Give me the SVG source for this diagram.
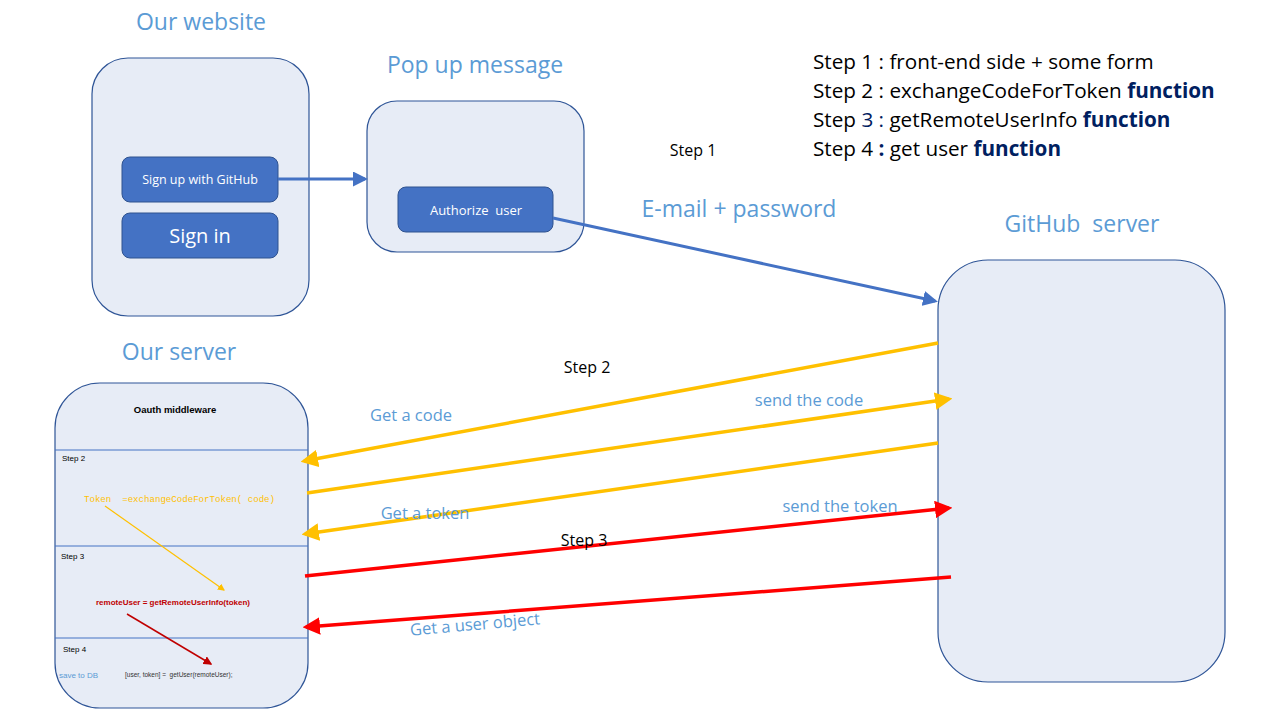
<svg xmlns="http://www.w3.org/2000/svg" width="1280" height="720" viewBox="0 0 1280 720">
<defs>
<style>
text{white-space:pre}
.box{fill:#E7ECF6;stroke:#2F5597;stroke-width:1.2}
.btn{fill:#4472C4;stroke:#2F528F;stroke-width:1}
.btxt{fill:#fff;font-family:"Open Sans","Liberation Sans",sans-serif;text-anchor:middle}
.title{fill:#5B9BD5;font-family:"Open Sans","Liberation Sans",sans-serif;font-size:23px;text-anchor:middle}
.lbl{fill:#5B9BD5;font-family:"Open Sans","Liberation Sans",sans-serif;font-size:16.5px;text-anchor:middle}
.big{font-size:23px}
.blk{fill:#000;font-family:"Open Sans","Liberation Sans",sans-serif;font-size:16px;text-anchor:middle}
.step{fill:#000;font-family:"Open Sans","Liberation Sans",sans-serif;font-size:20.7px}
.fn{fill:#002060;font-weight:bold}
.small{font-family:"Liberation Sans",sans-serif;font-size:8px;fill:#000}
.div{stroke:#4472C4;stroke-width:1}
.bl{stroke:#4472C4;stroke-width:3;fill:none}
.or{stroke:#FFC000;stroke-width:3.5;fill:none}
.rd{stroke:#FF0000;stroke-width:3.5;fill:none}
</style>
<marker id="mb" markerWidth="5" markerHeight="5" refX="4" refY="2.5" orient="auto" markerUnits="strokeWidth"><path d="M0,0 L5,2.5 L0,5 Z" fill="#4472C4"/></marker>
<marker id="mo" markerWidth="5" markerHeight="5" refX="4" refY="2.5" orient="auto" markerUnits="strokeWidth"><path d="M0,0 L5,2.5 L0,5 Z" fill="#FFC000"/></marker>
<marker id="mr" markerWidth="5" markerHeight="5" refX="4" refY="2.5" orient="auto" markerUnits="strokeWidth"><path d="M0,0 L5,2.5 L0,5 Z" fill="#FF0000"/></marker>
<marker id="mo2" markerWidth="6" markerHeight="6" refX="5" refY="3" orient="auto" markerUnits="strokeWidth"><path d="M0,0 L6,3 L0,6 Z" fill="#FFC000"/></marker>
<marker id="md" markerWidth="6" markerHeight="6" refX="5" refY="3" orient="auto" markerUnits="strokeWidth"><path d="M0,0 L6,3 L0,6 Z" fill="#C00000"/></marker>
</defs>
<rect width="1280" height="720" fill="#fff"/>

<g id="website">
<text class="title" x="201" y="30">Our website</text>
<rect class="box" x="92" y="58" width="217" height="258" rx="36"/>
</g>
<g id="signup">
<rect class="btn" x="122" y="157" width="156" height="45" rx="8"/>
<text class="btxt" x="200" y="184" font-size="12.5">Sign up with GitHub</text>
</g>
<g id="signin">
<rect class="btn" x="122" y="213" width="156" height="45" rx="8"/>
<text class="btxt" x="200" y="243" font-size="20">Sign in</text>
</g>

<g id="popup">
<text class="title" x="475" y="73">Pop up message</text>
<rect class="box" x="367" y="101" width="217" height="151" rx="30"/>
</g>
<g id="authorize">
<rect class="btn" x="398" y="187" width="155" height="45" rx="8"/>
<text class="btxt" x="476" y="215" font-size="13">Authorize  user</text>
</g>

<g id="github">
<text class="title" x="1082" y="232">GitHub  server</text>
<rect class="box" x="938" y="260" width="287" height="422" rx="50"/>
</g>

<g id="server">
<text class="title" x="179" y="360">Our server</text>
<rect class="box" x="55" y="383" width="253" height="325" rx="45"/>
<text x="175" y="413" font-family="Liberation Sans,sans-serif" font-size="9.5" font-weight="bold" text-anchor="middle">Oauth middleware</text>
<line class="div" x1="55" y1="450" x2="308" y2="450"/>
<line class="div" x1="55" y1="546" x2="308" y2="546"/>
<line class="div" x1="55" y1="638" x2="308" y2="638"/>
<text class="small" x="62" y="461">Step 2</text>
<text class="small" x="61" y="559">Step 3</text>
<text class="small" x="63" y="652">Step 4</text>
<text x="84" y="502" font-family="Liberation Mono,monospace" font-size="9.1" fill="#FFC000">Token  =exchangeCodeForToken( code)</text>
<text x="96" y="605" font-family="Liberation Sans,sans-serif" font-size="8" font-weight="bold" fill="#C00000">remoteUser = getRemoteUserInfo(token)</text>
<text x="59" y="678" font-family="Liberation Sans,sans-serif" font-size="8" fill="#5B9BD5">save to DB</text>
<text x="125" y="677" font-family="Liberation Sans,sans-serif" font-size="6.5" fill="#333">[user, token] =  getUser(remoteUser);</text>
<line x1="105" y1="506" x2="224" y2="590" stroke="#FFC000" stroke-width="1.2" marker-end="url(#mo2)"/>
<line x1="127" y1="614" x2="211" y2="664" stroke="#C00000" stroke-width="1.5" marker-end="url(#md)"/>
</g>

<g id="steps">
<text class="step" x="813" y="69">Step 1 : front-end side + some form</text>
<text class="step" x="813" y="98">Step 2 : exchangeCodeForToken <tspan class="fn">function</tspan></text>
<text class="step" x="813" y="127">Step <tspan fill="#002060">3 :</tspan> getRemoteUserInfo <tspan class="fn">function</tspan></text>
<text class="step" x="813" y="156">Step 4 <tspan class="fn">:</tspan> get user <tspan class="fn">function</tspan></text>
</g>

<g id="connectors">
<line class="bl" x1="278" y1="179" x2="365" y2="179" marker-end="url(#mb)"/>
<line class="bl" x1="553" y1="218" x2="935" y2="301" marker-end="url(#mb)"/>
<line class="or" x1="938" y1="343" x2="304" y2="461" marker-end="url(#mo)"/>
<line class="or" x1="307" y1="493" x2="949" y2="399" marker-end="url(#mo)"/>
<line class="or" x1="938" y1="443" x2="305" y2="534" marker-end="url(#mo)"/>
<line class="rd" x1="305" y1="576" x2="949" y2="508" marker-end="url(#mr)"/>
<line class="rd" x1="951" y1="577" x2="306" y2="627" marker-end="url(#mr)"/>
<text class="blk" x="693" y="156">Step 1</text>
<text class="lbl big" x="739" y="217">E-mail + password</text>
<text class="blk" x="587" y="373">Step 2</text>
<text class="lbl" x="411" y="421">Get a code</text>
<text class="lbl" x="809" y="406">send the code</text>
<text class="lbl" x="425" y="519">Get a token</text>
<text class="lbl" x="840" y="512">send the token</text>
<text class="blk" x="584" y="546">Step 3</text>
<text class="lbl" x="475" y="630" transform="rotate(-5 475 625)">Get a user object</text>
</g>
</svg>
